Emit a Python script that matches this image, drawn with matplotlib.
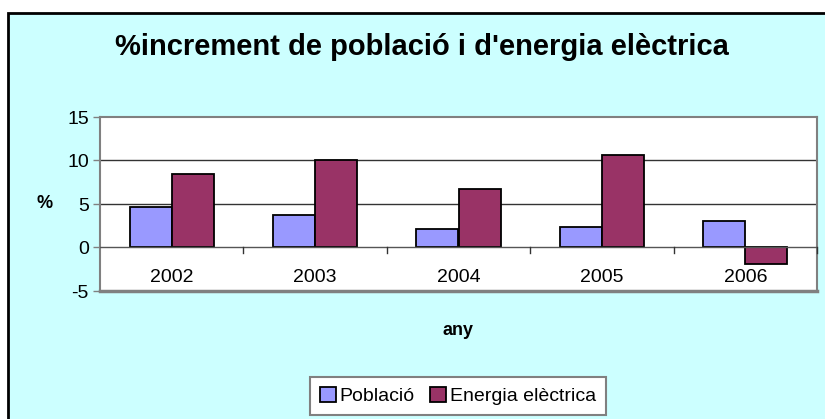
import matplotlib
matplotlib.use("Agg")
import matplotlib.pyplot as plt
import numpy as np
from matplotlib.patches import Rectangle

years = ["2002", "2003", "2004", "2005", "2006"]
poblacio = [4.6, 3.7, 2.1, 2.3, 3.0]
energia = [8.5, 10.1, 6.7, 10.6, -1.9]
yticks = [-5, 0, 5, 10, 15]

plt.rcParams['font.family'] = ['Liberation Sans', 'DejaVu Sans']

fig = plt.figure(figsize=(8.25, 4.19), dpi=100)
fig.patch.set_facecolor('white')
# chart frame
frame = Rectangle((8/825, -0.01), 1.0, 1 - 13/419 + 0.01, transform=fig.transFigure,
                  facecolor='#CCFFFF', edgecolor='black', linewidth=2, zorder=-10)
fig.add_artist(frame)

ax = fig.add_axes([100/825, 1 - 291/419, 717/825, 174/419])
ax.set_zorder(1)
ax.set_facecolor('white')
x = np.arange(len(years))
w = 0.293
ax.bar(x - w/2, poblacio, w, color='#9999FF', edgecolor='black', linewidth=1.3, zorder=3, label='Població')
ax.bar(x + w/2, energia, w, color='#993366', edgecolor='black', linewidth=1.3, zorder=3, label='Energia elèctrica')

ax.set_xlim(-0.5, len(years) - 0.5)
ax.set_ylim(-5, 15)
ax.set_yticks(yticks)
ax.set_yticklabels([str(v) for v in yticks], fontsize=14)
ax.tick_params(axis='y', direction='out', length=5, width=1, color='#808080', pad=3)
for v in yticks[2:4]:
    ax.axhline(v, color='#333333', linewidth=1, zorder=1)

for s in ['top', 'right', 'left']:
    ax.spines[s].set_color('#808080')
    ax.spines[s].set_linewidth(1.5)
ax.spines['bottom'].set_visible(False)
ax.axhline(-5, color='#808080', linewidth=2.5, zorder=4, clip_on=False)
ax.axhline(0, color='#555555', linewidth=1, zorder=4)

# category tick marks at boundaries below zero line
ax.set_xticks([])
for b in np.arange(0.5, len(years) - 0.5 + 1, 1.0):
    ax.plot([b, b], [0, -0.6], color='#333333', linewidth=1, zorder=4, clip_on=False)
for xi, lab in zip(x, years):
    ax.text(xi, -3.5, lab, ha='center', va='center', fontsize=14)

fig.text(422/825, 1 - 47/419, "%increment de població i d'energia elèctrica",
         ha='center', va='center', fontsize=21, fontweight='bold')
fig.text(45/825, 1 - 203/419, '%', ha='center', va='center', fontsize=13, fontweight='bold')
fig.text(458/825, 1 - 330/419, 'any', ha='center', va='center', fontsize=13, fontweight='bold')

leg = fig.legend(loc='center', bbox_to_anchor=(458/825, 1 - 396/419), ncol=2, fontsize=14,
                 frameon=True, fancybox=False, handlelength=0.8, handleheight=0.8,
                 handletextpad=0.2, columnspacing=0.8, borderpad=0.5)
leg.get_frame().set_edgecolor('#808080')
leg.get_frame().set_linewidth(1.5)
leg.get_frame().set_facecolor('white')
leg.get_frame().set_alpha(1)

fig.savefig('out.png', dpi=100, facecolor=fig.get_facecolor())
